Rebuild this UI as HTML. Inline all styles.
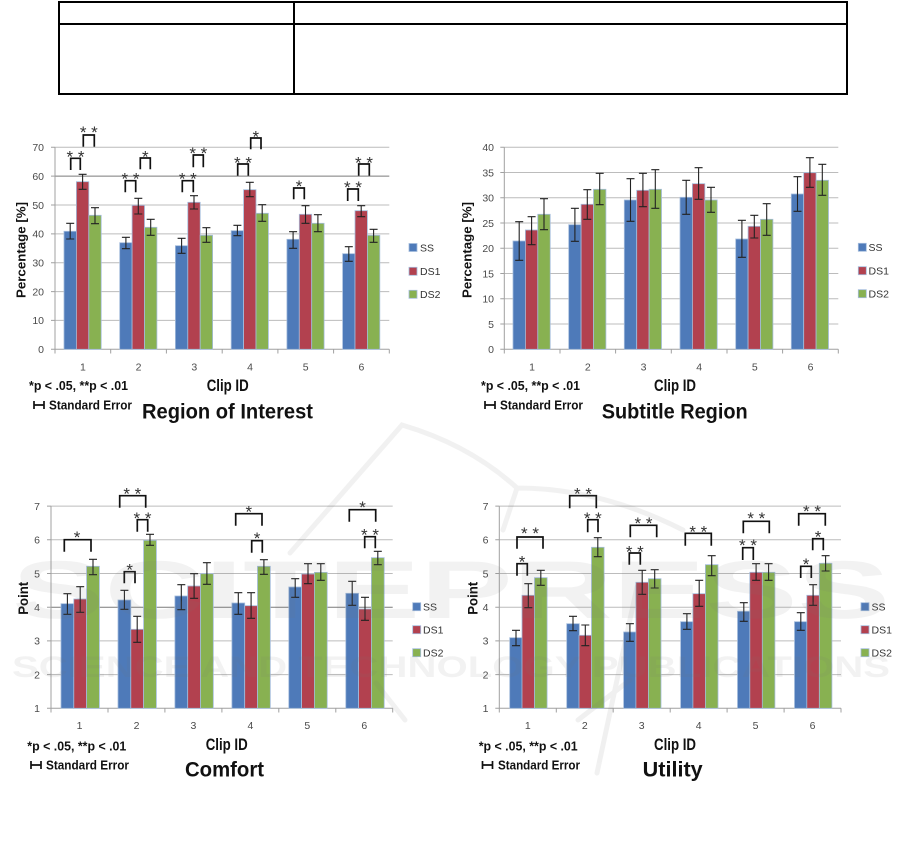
<!DOCTYPE html>
<html><head><meta charset="utf-8"><style>
html,body{margin:0;padding:0;background:#fff;}
svg{display:block;font-family:"Liberation Sans",sans-serif;}
.g{stroke:#bcbcbc;stroke-width:1;fill:none}
.gd{stroke:#7a7a7a;stroke-width:1;fill:none}
.ax{stroke:#a0a0a0;stroke-width:1;fill:none}
.yl{font-size:10.5px;fill:#4a4a4a;text-anchor:end}
.xl{font-size:10.5px;fill:#4a4a4a;text-anchor:middle}
.lg{font-size:10.5px;fill:#333}
.b{fill:#4e7ab9;stroke:#a4bcdc;stroke-width:0.8}
.r{fill:#b2414f;stroke:#a4bcdc;stroke-width:0.8}
.gr{fill:#88b151;stroke:#a4bcdc;stroke-width:0.8}
.e{stroke:#222;stroke-width:1.1;fill:none}
.k{stroke:#111;stroke-width:1.7;fill:none}
.s{font-size:17px;fill:#333;text-anchor:middle}
.bt{font-weight:bold;fill:#111}
</style></head><body>
<svg width="901" height="850" viewBox="0 0 901 850" xmlns="http://www.w3.org/2000/svg">
<rect width="901" height="850" fill="#fff"/>
<g stroke="#000" stroke-width="2" fill="none">
<rect x="59" y="2" width="788" height="92"/>
<line x1="294" y1="2" x2="294" y2="94"/>
<line x1="59" y1="24" x2="847" y2="24"/>
</g>

<g>
<path class="g" d="M55 320.4H389.3M55 291.6H389.3M55 262.7H389.3M55 233.9H389.3M55 205H389.3M55 147.3H389.3"/>
<path class="gd" d="M55 176.1H389.3"/>
<path class="ax" d="M51 349.3H389.3M51 320.4H55M51 291.6H55M51 262.7H55M51 233.9H55M51 205H55M51 176.1H55M51 147.3H55M55 147.3V349.3M55 349.3V353.5M110.7 349.3V353.5M166.4 349.3V353.5M222.2 349.3V353.5M277.9 349.3V353.5M333.6 349.3V353.5M389.3 349.3V353.5"/>
<text class="yl" x="44" y="151.1">70</text><text class="yl" x="44" y="179.9">60</text><text class="yl" x="44" y="208.8">50</text><text class="yl" x="44" y="237.7">40</text><text class="yl" x="44" y="266.5">30</text><text class="yl" x="44" y="295.4">20</text><text class="yl" x="44" y="324.2">10</text><text class="yl" x="44" y="353.1">0</text>
<rect class="b" x="64" y="231.3" width="12.4" height="118"/><rect class="r" x="76.4" y="181.7" width="12.4" height="167.6"/><rect class="gr" x="88.8" y="215.3" width="12.4" height="134"/>
<rect class="b" x="119.7" y="242.7" width="12.4" height="106.6"/><rect class="r" x="132.1" y="205.3" width="12.4" height="144"/><rect class="gr" x="144.5" y="227.3" width="12.4" height="122"/>
<rect class="b" x="175.4" y="245.7" width="12.4" height="103.6"/><rect class="r" x="187.8" y="202.3" width="12.4" height="147"/><rect class="gr" x="200.2" y="235.3" width="12.4" height="114"/>
<rect class="b" x="231.2" y="230.7" width="12.4" height="118.6"/><rect class="r" x="243.6" y="189.7" width="12.4" height="159.6"/><rect class="gr" x="256" y="213.3" width="12.4" height="136"/>
<rect class="b" x="286.9" y="239.3" width="12.4" height="110"/><rect class="r" x="299.3" y="214.3" width="12.4" height="135"/><rect class="gr" x="311.7" y="223.3" width="12.4" height="126"/>
<rect class="b" x="342.6" y="253.7" width="12.4" height="95.6"/><rect class="r" x="355" y="210.7" width="12.4" height="138.6"/><rect class="gr" x="367.4" y="235.3" width="12.4" height="114"/>
<path class="e" d="M70.2 223.3V239M66.2 223.3h8M66.2 239h8 M82.6 174.3V189.3M78.6 174.3h8M78.6 189.3h8 M95 207.7V223.7M91 207.7h8M91 223.7h8
M125.9 237.3V248.7M121.9 237.3h8M121.9 248.7h8 M138.3 198.3V214M134.3 198.3h8M134.3 214h8 M150.7 219.3V235.3M146.7 219.3h8M146.7 235.3h8
M181.6 238.3V253.3M177.6 238.3h8M177.6 253.3h8 M194 195.7V209M190 195.7h8M190 209h8 M206.4 227.7V242.3M202.4 227.7h8M202.4 242.3h8
M237.4 225.3V235.7M233.4 225.3h8M233.4 235.7h8 M249.8 182.3V196.7M245.8 182.3h8M245.8 196.7h8 M262.2 204.7V221.3M258.2 204.7h8M258.2 221.3h8
M293.1 231.7V248.3M289.1 231.7h8M289.1 248.3h8 M305.5 205.7V223.3M301.5 205.7h8M301.5 223.3h8 M317.9 214.7V231.7M313.9 214.7h8M313.9 231.7h8
M348.8 246.7V261.3M344.8 246.7h8M344.8 261.3h8 M361.2 205.7V216.7M357.2 205.7h8M357.2 216.7h8 M373.6 229.3V242.3M369.6 229.3h8M369.6 242.3h8"/>
<path class="k" d="M70.7 170V158.3H80.3V170 M83.3 146.7V135H94.3V146.7 M125.3 192.3V180.7H135.7V192.3 M140.3 169.3V158H150.3V169.3 M182.3 192.3V180.7H193.3V192.3 M193.3 167.3V155H203.3V167.3 M237.7 175.7V164H248.3V175.7 M250.7 149.3V138H261V149.3 M293.7 199.3V188H304.3V199.3 M347.7 201V189H358.3V201 M358.7 175.7V164H369.3V175.7"/>
<text class="s" x="75.5" y="162.4">* *</text><text class="s" x="88.8" y="138">* *</text><text class="s" x="130.5" y="184.7">* *</text><text class="s" x="145.3" y="162.4">*</text><text class="s" x="187.8" y="184.7">* *</text><text class="s" x="198.3" y="159">* *</text><text class="s" x="243" y="168.4">* *</text><text class="s" x="255.8" y="142.4">*</text><text class="s" x="299" y="192">*</text><text class="s" x="353" y="193">* *</text><text class="s" x="364" y="168.4">* *</text>
<text class="xl" x="82.9" y="370.5">1</text><text class="xl" x="138.6" y="370.5">2</text><text class="xl" x="194.3" y="370.5">3</text><text class="xl" x="250" y="370.5">4</text><text class="xl" x="305.7" y="370.5">5</text><text class="xl" x="361.4" y="370.5">6</text>
<rect class="b" x="409" y="243.5" width="8" height="8" stroke="none"/><text class="lg" x="420" y="251.3">SS</text>
<rect class="r" x="409" y="267.3" width="8" height="8" stroke="none"/><text class="lg" x="420" y="275.1">DS1</text>
<rect class="gr" x="409" y="290.3" width="8" height="8" stroke="none"/><text class="lg" x="420" y="298.1">DS2</text>
<text class="bt" transform="translate(25.5,250) rotate(-90)" x="-48" y="0" font-size="13" textLength="96" lengthAdjust="spacingAndGlyphs">Percentage [%]</text>
<text class="bt" x="206.7" y="391" font-size="17" textLength="42" lengthAdjust="spacingAndGlyphs">Clip ID</text>
<text class="bt" x="29" y="390" font-size="12.5" textLength="99" lengthAdjust="spacingAndGlyphs">*p &lt; .05, **p &lt; .01</text>
<path class="k" stroke-width="1.5" d="M34 401V409M44 401V409M34 405H44"/>
<text class="bt" x="49" y="409.3" font-size="12.5" textLength="83" lengthAdjust="spacingAndGlyphs">Standard Error</text>
<text class="bt" x="142" y="418.3" font-size="21" textLength="171" lengthAdjust="spacingAndGlyphs">Region of Interest</text>
</g>

<g>
<path class="g" d="M504.3 324.05H838.3M504.3 298.8H838.3M504.3 273.55H838.3M504.3 248.3H838.3M504.3 223.05H838.3M504.3 197.8H838.3M504.3 172.55H838.3M504.3 147.3H838.3"/>
<path class="ax" d="M500.3 349.3H838.3M500.3 324.05H504.3M500.3 298.8H504.3M500.3 273.55H504.3M500.3 248.3H504.3M500.3 223.05H504.3M500.3 197.8H504.3M500.3 172.55H504.3M500.3 147.3H504.3M504.3 147.3V349.3M504.3 349.3V353.5M560 349.3V353.5M615.6 349.3V353.5M671.3 349.3V353.5M727 349.3V353.5M782.6 349.3V353.5M838.3 349.3V353.5"/>
<text class="yl" x="494" y="151.1">40</text><text class="yl" x="494" y="176.4">35</text><text class="yl" x="494" y="201.6">30</text><text class="yl" x="494" y="226.9">25</text><text class="yl" x="494" y="252.1">20</text><text class="yl" x="494" y="277.4">15</text><text class="yl" x="494" y="302.6">10</text><text class="yl" x="494" y="327.9">5</text><text class="yl" x="494" y="353.1">0</text>
<rect class="b" x="513" y="241" width="12.4" height="108.3"/><rect class="r" x="525.4" y="230" width="12.4" height="119.3"/><rect class="gr" x="537.8" y="214.3" width="12.4" height="135"/>
<rect class="b" x="568.7" y="224.7" width="12.4" height="124.6"/><rect class="r" x="581.1" y="204.3" width="12.4" height="145"/><rect class="gr" x="593.5" y="189.3" width="12.4" height="160"/>
<rect class="b" x="624.3" y="200" width="12.4" height="149.3"/><rect class="r" x="636.7" y="190.3" width="12.4" height="159"/><rect class="gr" x="649.1" y="189.3" width="12.4" height="160"/>
<rect class="b" x="680" y="197.3" width="12.4" height="152"/><rect class="r" x="692.4" y="183.7" width="12.4" height="165.6"/><rect class="gr" x="704.8" y="200" width="12.4" height="149.3"/>
<rect class="b" x="735.7" y="239" width="12.4" height="110.3"/><rect class="r" x="748.1" y="226.3" width="12.4" height="123"/><rect class="gr" x="760.5" y="219.3" width="12.4" height="130"/>
<rect class="b" x="791.3" y="194" width="12.4" height="155.3"/><rect class="r" x="803.7" y="172.7" width="12.4" height="176.6"/><rect class="gr" x="816.1" y="180.3" width="12.4" height="169"/>
<path class="e" d="M519.2 221.7V260.3M515.2 221.7h8M515.2 260.3h8 M531.6 216.7V244.7M527.6 216.7h8M527.6 244.7h8 M544 198.7V229.7M540 198.7h8M540 229.7h8
M574.9 208.3V241.3M570.9 208.3h8M570.9 241.3h8 M587.3 189.7V219.3M583.3 189.7h8M583.3 219.3h8 M599.7 173.3V204.7M595.7 173.3h8M595.7 204.7h8
M630.5 178.7V221.3M626.5 178.7h8M626.5 221.3h8 M642.9 173.3V206.7M638.9 173.3h8M638.9 206.7h8 M655.3 169.7V208.3M651.3 169.7h8M651.3 208.3h8
M686.2 180.3V214.3M682.2 180.3h8M682.2 214.3h8 M698.6 167.7V199.3M694.6 167.7h8M694.6 199.3h8 M711 187.3V212.3M707 187.3h8M707 212.3h8
M741.9 220.3V257.3M737.9 220.3h8M737.9 257.3h8 M754.3 215.3V238M750.3 215.3h8M750.3 238h8 M766.7 203.7V235.3M762.7 203.7h8M762.7 235.3h8
M797.5 176.7V211.3M793.5 176.7h8M793.5 211.3h8 M809.9 157.7V187.3M805.9 157.7h8M805.9 187.3h8 M822.3 164.3V195.3M818.3 164.3h8M818.3 195.3h8"/>
<text class="xl" x="532.1" y="370.5">1</text><text class="xl" x="587.8" y="370.5">2</text><text class="xl" x="643.5" y="370.5">3</text><text class="xl" x="699.2" y="370.5">4</text><text class="xl" x="754.8" y="370.5">5</text><text class="xl" x="810.5" y="370.5">6</text>
<rect class="b" x="858.3" y="243.3" width="8" height="8" stroke="none"/><text class="lg" x="868.5" y="251.1">SS</text>
<rect class="r" x="858.3" y="266.7" width="8" height="8" stroke="none"/><text class="lg" x="868.5" y="274.5">DS1</text>
<rect class="gr" x="858.3" y="289.7" width="8" height="8" stroke="none"/><text class="lg" x="868.5" y="297.5">DS2</text>
<text class="bt" transform="translate(471.5,250) rotate(-90)" x="-48" y="0" font-size="13" textLength="96" lengthAdjust="spacingAndGlyphs">Percentage [%]</text>
<text class="bt" x="654" y="391" font-size="17" textLength="42" lengthAdjust="spacingAndGlyphs">Clip ID</text>
<text class="bt" x="481" y="390" font-size="12.5" textLength="99" lengthAdjust="spacingAndGlyphs">*p &lt; .05, **p &lt; .01</text>
<path class="k" stroke-width="1.5" d="M485 401V409M495 401V409M485 405H495"/>
<text class="bt" x="500" y="409.3" font-size="12.5" textLength="83" lengthAdjust="spacingAndGlyphs">Standard Error</text>
<text class="bt" x="601.7" y="418.3" font-size="21" textLength="146" lengthAdjust="spacingAndGlyphs">Subtitle Region</text>
</g>

<g>
<path class="g" d="M51 674.6H392.7M51 640.9H392.7M51 573.5H392.7M51 539.8H392.7M51 506.1H392.7"/>
<path class="gd" d="M51 607.2H392.7"/>
<path class="ax" d="M47 708.3H392.7M47 674.6H51M47 640.9H51M47 607.2H51M47 573.5H51M47 539.8H51M47 506.1H51M51 506.1V708.3M51 708.3V712.5M108 708.3V712.5M164.9 708.3V712.5M221.9 708.3V712.5M278.8 708.3V712.5M335.8 708.3V712.5M392.7 708.3V712.5"/>
<text class="yl" x="40" y="510">7</text><text class="yl" x="40" y="543.6">6</text><text class="yl" x="40" y="577.3">5</text><text class="yl" x="40" y="611">4</text><text class="yl" x="40" y="644.7">3</text><text class="yl" x="40" y="678.4">2</text><text class="yl" x="40" y="712.1">1</text>
<rect class="b" x="61" y="603.7" width="12.8" height="104.6"/><rect class="r" x="73.8" y="599" width="12.8" height="109.3"/><rect class="gr" x="86.6" y="566.3" width="12.8" height="142"/>
<rect class="b" x="118" y="600" width="12.8" height="108.3"/><rect class="r" x="130.8" y="629.3" width="12.8" height="79"/><rect class="gr" x="143.6" y="540.3" width="12.8" height="168"/>
<rect class="b" x="174.9" y="596" width="12.8" height="112.3"/><rect class="r" x="187.7" y="586" width="12.8" height="122.3"/><rect class="gr" x="200.5" y="573.7" width="12.8" height="134.6"/>
<rect class="b" x="231.9" y="603" width="12.8" height="105.3"/><rect class="r" x="244.7" y="605.7" width="12.8" height="102.6"/><rect class="gr" x="257.5" y="566.3" width="12.8" height="142"/>
<rect class="b" x="288.8" y="587" width="12.8" height="121.3"/><rect class="r" x="301.6" y="574" width="12.8" height="134.3"/><rect class="gr" x="314.4" y="572.3" width="12.8" height="136"/>
<rect class="b" x="345.8" y="593.3" width="12.8" height="115"/><rect class="r" x="358.6" y="609" width="12.8" height="99.3"/><rect class="gr" x="371.4" y="557.7" width="12.8" height="150.6"/>
<path class="e" d="M67.4 593.7V614.3M63.4 593.7h8M63.4 614.3h8 M80.2 586.7V612.3M76.2 586.7h8M76.2 612.3h8 M93 559.3V574.7M89 559.3h8M89 574.7h8
M124.4 590.3V609.3M120.4 590.3h8M120.4 609.3h8 M137.2 616.3V642.3M133.2 616.3h8M133.2 642.3h8 M150 534.3V545.3M146 534.3h8M146 545.3h8
M181.3 584.7V609.7M177.3 584.7h8M177.3 609.7h8 M194.1 573.7V598.3M190.1 573.7h8M190.1 598.3h8 M206.9 562.7V584.3M202.9 562.7h8M202.9 584.3h8
M238.3 592.7V614.3M234.3 592.7h8M234.3 614.3h8 M251.1 592.7V618.3M247.1 592.7h8M247.1 618.3h8 M263.9 559.7V574.3M259.9 559.7h8M259.9 574.3h8
M295.2 578.7V597.3M291.2 578.7h8M291.2 597.3h8 M308 563.7V583.7M304 563.7h8M304 583.7h8 M320.8 563.7V580.3M316.8 563.7h8M316.8 580.3h8
M352.2 581.3V605.3M348.2 581.3h8M348.2 605.3h8 M365 597.3V620.3M361 597.3h8M361 620.3h8 M377.8 551.3V564.7M373.8 551.3h8M373.8 564.7h8"/>
<path class="k" d="M64.3 551.7V539.7H91V551.7 M119.7 507.7V495.7H145.7V507.7 M124.3 583.3V571.7H135V583.3 M137.3 531.7V519.7H147.7V531.7 M235.7 525.7V513.7H262V525.7 M251.7 552.7V540.7H262.3V552.7 M349.3 521.7V509.7H375.7V521.7 M364.7 548.3V536.7H375.3V548.3"/>
<text class="s" x="77" y="543">*</text><text class="s" x="132.3" y="499.7">* *</text><text class="s" x="129.7" y="575.4">*</text><text class="s" x="142.5" y="524">* *</text><text class="s" x="248.8" y="517.4">*</text><text class="s" x="257" y="544">*</text><text class="s" x="362.5" y="513">*</text><text class="s" x="370" y="540.4">* *</text>
<text class="xl" x="79.5" y="728.8">1</text><text class="xl" x="136.5" y="728.8">2</text><text class="xl" x="193.4" y="728.8">3</text><text class="xl" x="250.4" y="728.8">4</text><text class="xl" x="307.3" y="728.8">5</text><text class="xl" x="364.3" y="728.8">6</text>
<rect class="b" x="412.7" y="602.7" width="8" height="8" stroke="none"/><text class="lg" x="423" y="610.5">SS</text>
<rect class="r" x="412.7" y="625.7" width="8" height="8" stroke="none"/><text class="lg" x="423" y="633.5">DS1</text>
<rect class="gr" x="412.7" y="648.7" width="8" height="8" stroke="none"/><text class="lg" x="423" y="656.5">DS2</text>
<text class="bt" transform="translate(28,598.3) rotate(-90)" x="-16.5" y="0" font-size="13.5" textLength="33" lengthAdjust="spacingAndGlyphs">Point</text>
<text class="bt" x="205.7" y="750" font-size="17" textLength="42" lengthAdjust="spacingAndGlyphs">Clip ID</text>
<text class="bt" x="27.3" y="750.7" font-size="12.5" textLength="99" lengthAdjust="spacingAndGlyphs">*p &lt; .05, **p &lt; .01</text>
<path class="k" stroke-width="1.5" d="M31 761V769M41 761V769M31 765H41"/>
<text class="bt" x="46" y="769.3" font-size="12.5" textLength="83" lengthAdjust="spacingAndGlyphs">Standard Error</text>
<text class="bt" x="185" y="776.7" font-size="21" textLength="79" lengthAdjust="spacingAndGlyphs">Comfort</text>
</g>

<g>
<path class="g" d="M499.3 674.6H841M499.3 640.9H841M499.3 607.2H841M499.3 573.5H841M499.3 539.8H841M499.3 506.1H841"/>
<path class="ax" d="M495.3 708.3H841M495.3 674.6H499.3M495.3 640.9H499.3M495.3 607.2H499.3M495.3 573.5H499.3M495.3 539.8H499.3M495.3 506.1H499.3M499.3 506.1V708.3M499.3 708.3V712.5M556.3 708.3V712.5M613.2 708.3V712.5M670.2 708.3V712.5M727.1 708.3V712.5M784.1 708.3V712.5M841 708.3V712.5"/>
<text class="yl" x="488.5" y="510">7</text><text class="yl" x="488.5" y="543.6">6</text><text class="yl" x="488.5" y="577.3">5</text><text class="yl" x="488.5" y="611">4</text><text class="yl" x="488.5" y="644.7">3</text><text class="yl" x="488.5" y="678.4">2</text><text class="yl" x="488.5" y="712.1">1</text>
<rect class="b" x="509.7" y="637.7" width="12.6" height="70.6"/><rect class="r" x="522" y="595.3" width="12.6" height="113"/><rect class="gr" x="534.5" y="577.7" width="12.6" height="130.6"/>
<rect class="b" x="566.7" y="623.7" width="12.6" height="84.6"/><rect class="r" x="579" y="635.3" width="12.6" height="73"/><rect class="gr" x="591.5" y="547.3" width="12.6" height="161"/>
<rect class="b" x="623.6" y="632" width="12.6" height="76.3"/><rect class="r" x="635.9" y="582.3" width="12.6" height="126"/><rect class="gr" x="648.4" y="578.7" width="12.6" height="129.6"/>
<rect class="b" x="680.6" y="621.7" width="12.6" height="86.6"/><rect class="r" x="692.9" y="593.7" width="12.6" height="114.6"/><rect class="gr" x="705.4" y="564.7" width="12.6" height="143.6"/>
<rect class="b" x="737.5" y="611.3" width="12.6" height="97"/><rect class="r" x="749.8" y="572.3" width="12.6" height="136"/><rect class="gr" x="762.3" y="572.3" width="12.6" height="136"/>
<rect class="b" x="794.5" y="621.7" width="12.6" height="86.6"/><rect class="r" x="806.8" y="595.3" width="12.6" height="113"/><rect class="gr" x="819.3" y="563.3" width="12.6" height="145"/>
<path class="e" d="M516 630.3V645.7M512 630.3h8M512 645.7h8 M528.3 583.7V607.7M524.3 583.7h8M524.3 607.7h8 M540.8 570.3V585.3M536.8 570.3h8M536.8 585.3h8
M573 616.3V630.7M569 616.3h8M569 630.7h8 M585.3 625V645.7M581.3 625h8M581.3 645.7h8 M597.8 537.7V556.7M593.8 537.7h8M593.8 556.7h8
M629.9 623.7V641.3M625.9 623.7h8M625.9 641.3h8 M642.2 570.3V594.3M638.2 570.3h8M638.2 594.3h8 M654.7 569.7V588M650.7 569.7h8M650.7 588h8
M686.9 613.7V629.3M682.9 613.7h8M682.9 629.3h8 M699.2 580.3V606.3M695.2 580.3h8M695.2 606.3h8 M711.7 555.7V575.7M707.7 555.7h8M707.7 575.7h8
M743.8 602.7V621.3M739.8 602.7h8M739.8 621.3h8 M756.1 563.7V580.3M752.1 563.7h8M752.1 580.3h8 M768.6 563.7V580.3M764.6 563.7h8M764.6 580.3h8
M800.8 612.7V630.3M796.8 612.7h8M796.8 630.3h8 M813.1 584.7V605.3M809.1 584.7h8M809.1 605.3h8 M825.6 555.7V571M821.6 555.7h8M821.6 571h8"/>
<path class="k" d="M517 548.7V537H543V548.7 M517 575.7V563.7H527.3V575.7 M569.7 508.3V495.7H596.3V508.3 M587.7 532.3V519.7H598V532.3 M630.3 537.3V525.3H656.7V537.3 M629.3 564.7V553H640.3V564.7 M685.3 545.7V533.3H711.3V545.7 M743.3 533.3V521.3H769.3V533.3 M742.7 560V547.7H753.3V560 M798.7 525.7V513.7H825.3V525.7 M812.7 550.3V538.7H823.3V550.3 M800.7 578V566.3H811.3V578"/>
<text class="s" x="530" y="539">* *</text><text class="s" x="522" y="567.4">*</text><text class="s" x="583" y="499.7">* *</text><text class="s" x="592.8" y="524">* *</text><text class="s" x="643.5" y="529">* *</text><text class="s" x="634.8" y="557.4">* *</text><text class="s" x="698.3" y="537.4">* *</text><text class="s" x="756.3" y="524">* *</text><text class="s" x="748" y="551">* *</text><text class="s" x="812" y="517">* *</text><text class="s" x="818" y="542.4">*</text><text class="s" x="806" y="570">*</text>
<text class="xl" x="527.8" y="728.8">1</text><text class="xl" x="584.8" y="728.8">2</text><text class="xl" x="641.7" y="728.8">3</text><text class="xl" x="698.7" y="728.8">4</text><text class="xl" x="755.6" y="728.8">5</text><text class="xl" x="812.6" y="728.8">6</text>
<rect class="b" x="861" y="602.7" width="8" height="8" stroke="none"/><text class="lg" x="871.5" y="610.5">SS</text>
<rect class="r" x="861" y="625.7" width="8" height="8" stroke="none"/><text class="lg" x="871.5" y="633.5">DS1</text>
<rect class="gr" x="861" y="648.7" width="8" height="8" stroke="none"/><text class="lg" x="871.5" y="656.5">DS2</text>
<text class="bt" transform="translate(477.5,598.3) rotate(-90)" x="-16.5" y="0" font-size="13.5" textLength="33" lengthAdjust="spacingAndGlyphs">Point</text>
<text class="bt" x="654" y="750" font-size="17" textLength="42" lengthAdjust="spacingAndGlyphs">Clip ID</text>
<text class="bt" x="478.7" y="750.7" font-size="12.5" textLength="99" lengthAdjust="spacingAndGlyphs">*p &lt; .05, **p &lt; .01</text>
<path class="k" stroke-width="1.5" d="M482.5 761V769M492.5 761V769M482.5 765H492.5"/>
<text class="bt" x="498" y="769.3" font-size="12.5" textLength="82" lengthAdjust="spacingAndGlyphs">Standard Error</text>
<text class="bt" x="642.7" y="776.7" font-size="21" textLength="60" lengthAdjust="spacingAndGlyphs">Utility</text>
</g>

<g opacity="0.09" fill="#777" stroke="none">
<text x="12" y="618" font-size="82" font-weight="bold" textLength="878" lengthAdjust="spacingAndGlyphs">SCITEPRESS</text>
<text x="12" y="677" font-size="30" font-weight="bold" textLength="878" lengthAdjust="spacingAndGlyphs">SCIENCE AND TECHNOLOGY PUBLICATIONS</text>
</g>
<g opacity="0.1" fill="none" stroke="#777" stroke-width="5" stroke-linecap="round">
<path d="M290 553L402 425Q470 445 517 488L503 530M517 488Q600 488 683 530"/>
<path d="M637 587L597 773"/>
<path d="M376 683L405 720M630 680L578 720"/>
</g>
</svg>
</body></html>
